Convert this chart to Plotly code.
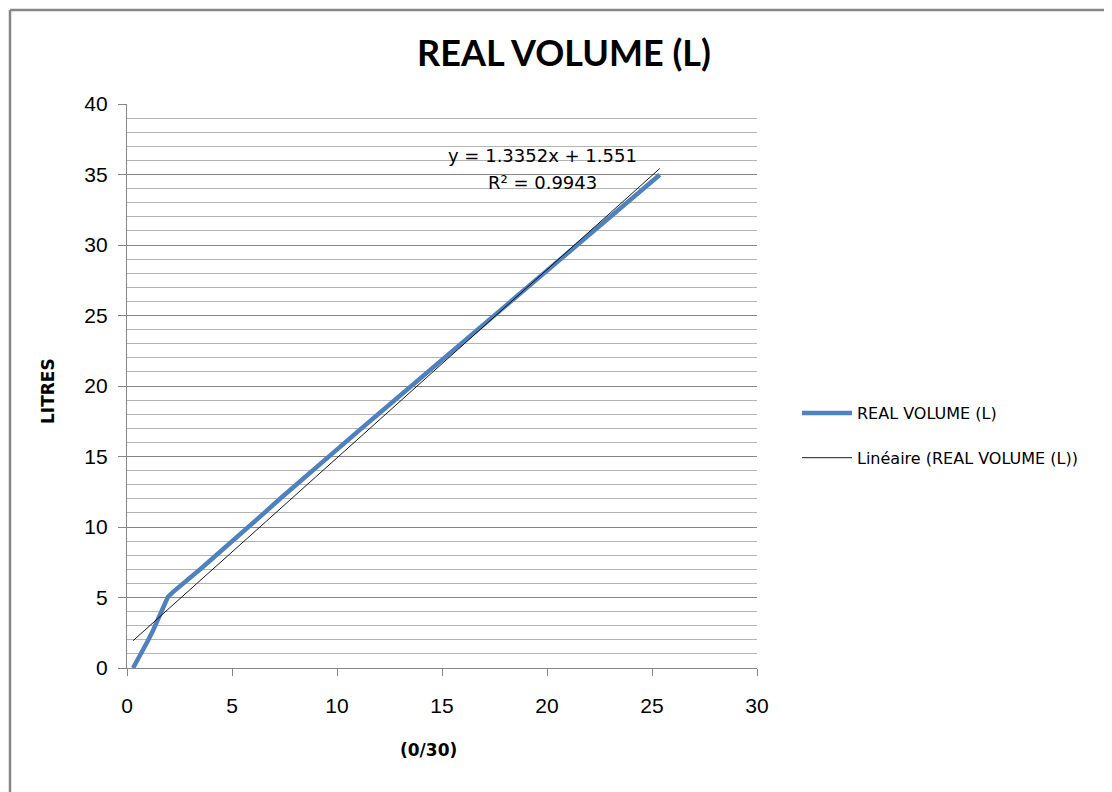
import plotly.graph_objects as go

# ---- data ----
x_vals = [0.29, 0.5, 0.75, 1.0, 1.25, 1.5, 1.75, 1.95, 2.2, 2.5, 3.0, 3.5, 4.0, 4.5,
          5.0, 5.7, 6.5, 7.3, 8.2, 9.0, 10.0, 11.0, 12.0, 13.0, 14.0, 15.0, 16.0,
          17.0, 18.0, 19.0, 20.0, 21.0, 22.0, 23.0, 24.0, 25.37]
y_vals = [0.0, 0.55, 1.25, 1.95, 2.7, 3.5, 4.4, 5.05, 5.4, 5.8, 6.4, 7.02, 7.66, 8.31,
          8.97, 9.9, 10.95, 12.02, 13.2, 14.23, 15.5, 16.78, 18.05, 19.32, 20.6, 21.86, 23.12,
          24.39, 25.65, 26.92, 28.18, 29.45, 30.71, 31.98, 33.24, 34.98]

trend_slope = 1.3352
trend_intercept = 1.551
r_squared = 0.9943

series_name = "REAL VOLUME (L)"
trend_name = "Linéaire (REAL VOLUME (L))"
title_text = "REAL VOLUME (L)"
x_title = "(0/30)"
y_title = "LITRES"

x_ticks = [0, 5, 10, 15, 20, 25, 30]
y_ticks = [0, 5, 10, 15, 20, 25, 30, 35, 40]

# ---- figure ----
tx = [min(x_vals), max(x_vals)]
ty = [trend_slope * v + trend_intercept for v in tx]

fig = go.Figure()
fig.add_trace(go.Scatter(
    x=x_vals, y=y_vals, mode="lines", name=series_name,
    line=dict(color="#4F81BD", width=4.5), legendgroup="a"))
fig.add_trace(go.Scatter(
    x=tx, y=ty, mode="lines", name=trend_name,
    line=dict(color="#000000", width=0.9), legendgroup="b"))

OFF = 8  # page body margin
W, H = 1104, 784
ml, mt = 119, 96
pw, ph = 630, 564
mr, mb = W - ml - pw, H - mt - ph

def px_x(p):  # page pixel -> paper x
    return (p - OFF - ml) / pw

def px_y(p):  # page pixel -> paper y
    return (mt + ph - (p - OFF)) / ph

tick_font = dict(family="Liberation Sans", size=21, color="#000000")

fig.update_layout(
    width=W, height=H,
    margin=dict(l=ml, r=mr, t=mt, b=mb, autoexpand=False),
    paper_bgcolor="white", plot_bgcolor="white",
    title=dict(text=title_text, x=(564 - OFF) / W, xanchor="center",
               y=1 - (53 - OFF) / H, yanchor="middle",
               font=dict(family="Lato", size=36, color="#000000", weight="bold")),
    xaxis=dict(range=[0, 30], tickvals=x_ticks, showgrid=False, zeroline=False,
               showline=True, linecolor="#868686", linewidth=1.3,
               ticks="outside", ticklen=7, tickcolor="#868686", tickwidth=1.3,
               tickfont=tick_font, ticklabelstandoff=12),
    yaxis=dict(range=[0, 40], tickvals=y_ticks, zeroline=False,
               showgrid=True, gridcolor="#868686", gridwidth=1.3,
               minor=dict(dtick=1, showgrid=True, gridcolor="#b4b4b4", gridwidth=1),
               showline=True, linecolor="#868686", linewidth=1.3,
               ticks="outside", ticklen=8, tickcolor="#868686", tickwidth=1.3,
               tickfont=tick_font, ticklabelstandoff=6),
    showlegend=True,
    legend=dict(x=px_x(797), y=px_y(396), xanchor="left", yanchor="top",
                font=dict(family="DejaVu Sans", size=16, color="#000000"),
                bgcolor="rgba(0,0,0,0)", itemwidth=50, tracegroupgap=21,
                traceorder="grouped"),
    annotations=[
        dict(text="y = 1.3352x + 1.551", x=19.8, y=36.33, xref="x", yref="y",
             showarrow=False, xanchor="center", yanchor="middle",
             font=dict(family="DejaVu Sans", size=18, color="#000000")),
        dict(text="R² = %.4f" % r_squared, x=19.8, y=34.42, xref="x", yref="y",
             showarrow=False, xanchor="center", yanchor="middle",
             font=dict(family="DejaVu Sans", size=18, color="#000000")),
        dict(text="<b>%s</b>" % x_title, x=px_x(428), y=px_y(750), xref="paper", yref="paper",
             showarrow=False, xanchor="center", yanchor="middle",
             font=dict(family="DejaVu Sans", size=17, color="#000000")),
        dict(text="<b>%s</b>" % y_title, x=px_x(48), y=px_y(391), xref="paper", yref="paper",
             showarrow=False, xanchor="center", yanchor="middle", textangle=-90,
             font=dict(family="DejaVu Sans", size=17, color="#000000")),
    ],
    shapes=[
        dict(type="line", xref="paper", yref="paper", x0=px_x(10), x1=px_x(10),
             y0=px_y(10), y1=px_y(800), line=dict(color="#868686", width=2.5)),
        dict(type="line", xref="paper", yref="paper", x0=px_x(10), x1=px_x(1120),
             y0=px_y(10), y1=px_y(10), line=dict(color="#868686", width=2.5)),
    ],
)

fig.write_html("out.html")
